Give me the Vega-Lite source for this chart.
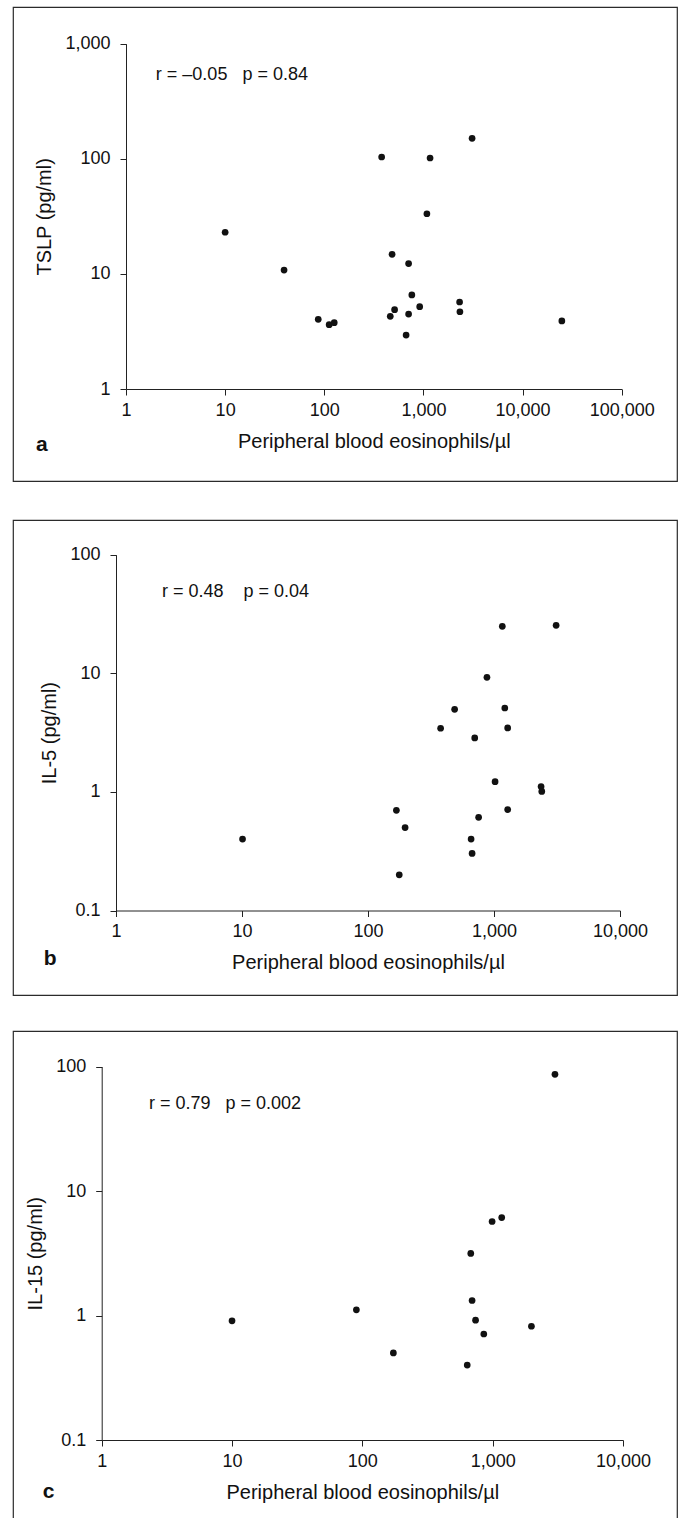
{
  "$schema": "https://vega.github.io/schema/vega-lite/v6.json",
  "padding": {"left": 12, "top": 6, "right": 6, "bottom": 0},
  "background": "white",
  "datasets": {
    "tslp": [
      {"eosinophils": 10, "level": 23.0}, {"eosinophils": 39.3, "level": 10.8}, {"eosinophils": 86.9, "level": 4.03},
      {"eosinophils": 112, "level": 3.62}, {"eosinophils": 126, "level": 3.77}, {"eosinophils": 379, "level": 103.7},
      {"eosinophils": 463, "level": 4.28}, {"eosinophils": 483, "level": 14.8}, {"eosinophils": 512, "level": 4.89},
      {"eosinophils": 669, "level": 2.94}, {"eosinophils": 709, "level": 4.48}, {"eosinophils": 709, "level": 12.3},
      {"eosinophils": 764, "level": 6.56}, {"eosinophils": 917, "level": 5.19}, {"eosinophils": 1084, "level": 33.3},
      {"eosinophils": 1167, "level": 101.6}, {"eosinophils": 2317, "level": 5.70}, {"eosinophils": 2334, "level": 4.69},
      {"eosinophils": 3097, "level": 150.7}, {"eosinophils": 24900, "level": 3.90}
    ],
    "il5": [
      {"eosinophils": 10.1, "level": 0.40}, {"eosinophils": 168, "level": 0.70}, {"eosinophils": 177, "level": 0.20},
      {"eosinophils": 197, "level": 0.50}, {"eosinophils": 377, "level": 3.44}, {"eosinophils": 487, "level": 4.97},
      {"eosinophils": 658, "level": 0.40}, {"eosinophils": 670, "level": 0.303}, {"eosinophils": 703, "level": 2.85},
      {"eosinophils": 755, "level": 0.61}, {"eosinophils": 879, "level": 9.25}, {"eosinophils": 1020, "level": 1.22},
      {"eosinophils": 1164, "level": 24.9}, {"eosinophils": 1218, "level": 5.10}, {"eosinophils": 1284, "level": 3.46},
      {"eosinophils": 1284, "level": 0.71}, {"eosinophils": 2364, "level": 1.11}, {"eosinophils": 2394, "level": 1.01},
      {"eosinophils": 3112, "level": 25.4}
    ],
    "il15": [
      {"eosinophils": 10, "level": 0.906}, {"eosinophils": 90, "level": 1.11}, {"eosinophils": 173, "level": 0.50},
      {"eosinophils": 638, "level": 0.40}, {"eosinophils": 679, "level": 3.15}, {"eosinophils": 695, "level": 1.32},
      {"eosinophils": 739, "level": 0.918}, {"eosinophils": 855, "level": 0.71}, {"eosinophils": 990, "level": 5.69},
      {"eosinophils": 1173, "level": 6.12}, {"eosinophils": 1983, "level": 0.82}, {"eosinophils": 3006, "level": 86.5}
    ]
  },
  "spacing": 37,
  "vconcat": [
    {
      "width": 664,
      "height": 474,
      "layer": [
        {
          "data": {"name": "tslp"},
          "mark": {"type": "point", "filled": true, "size": 45, "color": "#111", "opacity": 1, "strokeWidth": 0},
          "encoding": {
            "x": {"field": "eosinophils", "type": "quantitative",
                  "scale": {"type": "log", "domain": [1, 100000], "range": [113, 608.7], "nice": false},
                  "axis": {"title": "Peripheral blood eosinophils/µl", "values": [1, 10, 100, 1000, 10000, 100000], "format": ",", "offset": -92}},
            "y": {"field": "level", "type": "quantitative",
                  "scale": {"type": "log", "domain": [1, 1000], "range": [382, 36.7], "nice": false},
                  "axis": {"title": "TSLP (pg/ml)", "values": [1, 10, 100, 1000], "format": ",", "offset": -113}}
          }
        },
        {
          "data": {"values": [{}]},
          "mark": {"type": "text", "align": "left", "baseline": "middle", "fontSize": 18, "text": "r = –0.05\u00a0\u00a0\u00a0p = 0.84"},
          "encoding": {
            "x": {"datum": 2.0, "type": "quantitative", "scale": {"type": "log", "domain": [1, 100000], "range": [113, 608.7], "nice": false}},
            "y": {"datum": 535, "type": "quantitative", "scale": {"type": "log", "domain": [1, 1000], "range": [382, 36.7], "nice": false}}
          }
        },
        {
          "data": {"values": [{}]},
          "mark": {"type": "text", "align": "left", "baseline": "alphabetic", "fontSize": 21, "fontWeight": "bold", "text": "a"},
          "encoding": {
            "x": {"datum": 0.1236, "type": "quantitative", "scale": {"type": "log", "domain": [1, 100000], "range": [113, 608.7], "nice": false}},
            "y": {"datum": 0.289, "type": "quantitative", "scale": {"type": "log", "domain": [1, 1000], "range": [382, 36.7], "nice": false}}
          }
        }
      ]
    },
    {
      "spacing": 34,
      "vconcat": [
        {
          "width": 664,
          "height": 475,
          "layer": [
            {
              "data": {"name": "il5"},
              "mark": {"type": "point", "filled": true, "size": 45, "color": "#111", "opacity": 1, "strokeWidth": 0},
              "encoding": {
                "x": {"field": "eosinophils", "type": "quantitative",
                      "scale": {"type": "log", "domain": [1, 10000], "range": [103, 607], "nice": false},
                      "axis": {"title": "Peripheral blood eosinophils/µl", "values": [1, 10, 100, 1000, 10000], "format": ",", "offset": -84.5}},
                "y": {"field": "level", "type": "quantitative",
                      "scale": {"type": "log", "domain": [0.1, 100], "range": [390.5, 34.7], "nice": false},
                      "axis": {"title": "IL-5 (pg/ml)", "values": [0.1, 1, 10, 100], "format": ",", "offset": -103}}
              }
            },
            {
              "data": {"values": [{}]},
              "mark": {"type": "text", "align": "left", "baseline": "middle", "fontSize": 18, "text": "r = 0.48\u00a0\u00a0\u00a0\u00a0p = 0.04"},
              "encoding": {
                "x": {"datum": 2.317, "type": "quantitative", "scale": {"type": "log", "domain": [1, 10000], "range": [103, 607], "nice": false}},
                "y": {"datum": 48.5, "type": "quantitative", "scale": {"type": "log", "domain": [0.1, 100], "range": [390.5, 34.7], "nice": false}}
              }
            },
            {
              "data": {"values": [{}]},
              "mark": {"type": "text", "align": "left", "baseline": "alphabetic", "fontSize": 21, "fontWeight": "bold", "text": "b"},
              "encoding": {
                "x": {"datum": 0.267, "type": "quantitative", "scale": {"type": "log", "domain": [1, 10000], "range": [103, 607], "nice": false}},
                "y": {"datum": 0.0349, "type": "quantitative", "scale": {"type": "log", "domain": [0.1, 100], "range": [390.5, 34.7], "nice": false}}
              }
            }
          ]
        },
        {
          "width": 664,
          "height": 491,
          "layer": [
            {
              "data": {"name": "il15"},
              "mark": {"type": "point", "filled": true, "size": 45, "color": "#111", "opacity": 1, "strokeWidth": 0},
              "encoding": {
                "x": {"field": "eosinophils", "type": "quantitative",
                      "scale": {"type": "log", "domain": [1, 10000], "range": [88.7, 610], "nice": false},
                      "axis": {"title": "Peripheral blood eosinophils/µl", "values": [1, 10, 100, 1000, 10000], "format": ",", "offset": -82}},
                "y": {"field": "level", "type": "quantitative",
                      "scale": {"type": "log", "domain": [0.1, 100], "range": [409, 35.5], "nice": false},
                      "axis": {"title": "IL-15 (pg/ml)", "values": [0.1, 1, 10, 100], "format": ",", "offset": -88.7}}
              }
            },
            {
              "data": {"values": [{}]},
              "mark": {"type": "text", "align": "left", "baseline": "middle", "fontSize": 18, "text": "r = 0.79\u00a0\u00a0\u00a0p = 0.002"},
              "encoding": {
                "x": {"datum": 2.307, "type": "quantitative", "scale": {"type": "log", "domain": [1, 10000], "range": [88.7, 610], "nice": false}},
                "y": {"datum": 50.0, "type": "quantitative", "scale": {"type": "log", "domain": [0.1, 100], "range": [409, 35.5], "nice": false}}
              }
            },
            {
              "data": {"values": [{}]},
              "mark": {"type": "text", "align": "left", "baseline": "alphabetic", "fontSize": 21, "fontWeight": "bold", "text": "c"},
              "encoding": {
                "x": {"datum": 0.3525, "type": "quantitative", "scale": {"type": "log", "domain": [1, 10000], "range": [88.7, 610], "nice": false}},
                "y": {"datum": 0.0344, "type": "quantitative", "scale": {"type": "log", "domain": [0.1, 100], "range": [409, 35.5], "nice": false}}
              }
            }
          ]
        }
      ]
    }
  ],
  "config": {
    "font": "Liberation Sans",
    "view": {"stroke": "#2b2b2b", "strokeWidth": 1.2},
    "axis": {
      "grid": false,
      "domainColor": "#222",
      "tickColor": "#222",
      "labelColor": "#111",
      "titleColor": "#111",
      "labelFont": "Liberation Sans",
      "titleFont": "Liberation Sans",
      "labelFontSize": 18,
      "titleFontSize": 20,
      "titleFontWeight": "normal",
      "tickSize": 6,
      "domainWidth": 1,
      "tickWidth": 1,
      "labelFlush": false,
      "labelOverlap": false,
      "labelBound": false
    },
    "axisX": {"labelPadding": 6, "titlePadding": 12},
    "axisY": {"labelPadding": 10, "titlePadding": 10},
    "text": {"color": "#111", "font": "Liberation Sans"}
  }
}
